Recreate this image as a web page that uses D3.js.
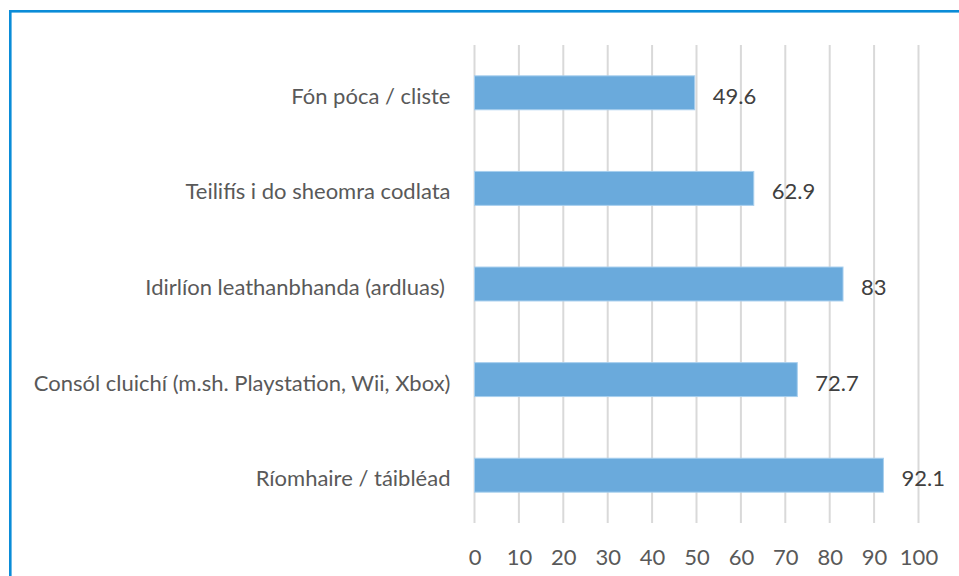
<!DOCTYPE html>
<html lang="ga">
<head>
  <meta charset="UTF-8">
  <title>Bar chart</title>
  <script src="https://d3js.org/d3.v7.min.js"></script>
  <style>
    body { margin: 0; background: #fff; }
    svg { display: block; font-family: Lato, "Open Sans", sans-serif; }
    .cat text { white-space: pre; }
  </style>
</head>
<body>
  <svg id="chart" width="959" height="576"></svg>
  <script>
    // data, top to bottom
    const categories = [
      "Fón póca / cliste",
      "Teilifís i do sheomra codlata",
      "Idirlíon leathanbhanda (ardluas) ",
      "Consól cluichí (m.sh. Playstation, Wii, Xbox)",
      "Ríomhaire / táibléad"
    ];
    const values = [49.6, 62.9, 83, 72.7, 92.1];
    const ticks = [0, 10, 20, 30, 40, 50, 60, 70, 80, 90, 100];

    const svg = d3.select("#chart");
    const fontSize = 22;

    // frame (runs past right and bottom edges)
    svg.append("rect")
      .attr("x", 10.3).attr("y", 11.3)
      .attr("width", 1000).attr("height", 700)
      .attr("fill", "none")
      .attr("stroke", "#0a8cd8")
      .attr("stroke-width", 2.6);

    const x = d3.scaleLinear().domain([0, 100]).range([474.5, 918.5]);
    const y = d3.scaleBand().domain(categories).range([45, 523])
      .paddingInner(0.645).paddingOuter(0.3225);

    // gridlines
    svg.append("g").selectAll("line")
      .data(ticks)
      .enter().append("line")
      .attr("x1", d => x(d)).attr("x2", d => x(d))
      .attr("y1", 45).attr("y2", 523)
      .attr("stroke", "#d9d9d9")
      .attr("stroke-width", 2);

    // bars
    const rows = categories.map((c, i) => ({ cat: c, val: values[i] }));
    svg.append("g").selectAll("rect")
      .data(rows)
      .enter().append("rect")
      .attr("x", x(0))
      .attr("y", d => y(d.cat))
      .attr("width", d => x(d.val) - x(0))
      .attr("height", y.bandwidth())
      .attr("fill", "#6aaadc")
      .attr("stroke", "#a8cfee")
      .attr("stroke-width", 1);

    // value labels
    svg.append("g").selectAll("text")
      .data(rows)
      .enter().append("text")
      .attr("x", d => x(d.val) + 18)
      .attr("y", d => y(d.cat) + y.bandwidth() / 2)
      .attr("dy", "0.5em")
      .attr("fill", "#404040")
      .style("font-size", fontSize + "px")
      .text(d => d.val);

    // x axis labels
    const xAxis = svg.append("g")
      .attr("transform", "translate(0,547)")
      .call(d3.axisBottom(x).tickValues(ticks).tickSize(0).tickPadding(0));
    xAxis.select(".domain").remove();
    xAxis.selectAll("text")
      .attr("dy", "0.8em")
      .attr("fill", "#595959")
      .style("font-family", "Lato, 'Open Sans', sans-serif")
      .style("font-size", fontSize + "px");

    // category labels
    const yAxis = svg.append("g")
      .attr("class", "cat")
      .attr("transform", `translate(${x(0)},0)`)
      .call(d3.axisLeft(y).tickSize(0).tickPadding(24));
    yAxis.select(".domain").remove();
    yAxis.selectAll("text")
      .attr("dy", "0.5em")
      .attr("fill", "#595959")
      .style("font-family", "Lato, 'Open Sans', sans-serif")
      .style("font-size", fontSize + "px");
  </script>
</body>
</html>
